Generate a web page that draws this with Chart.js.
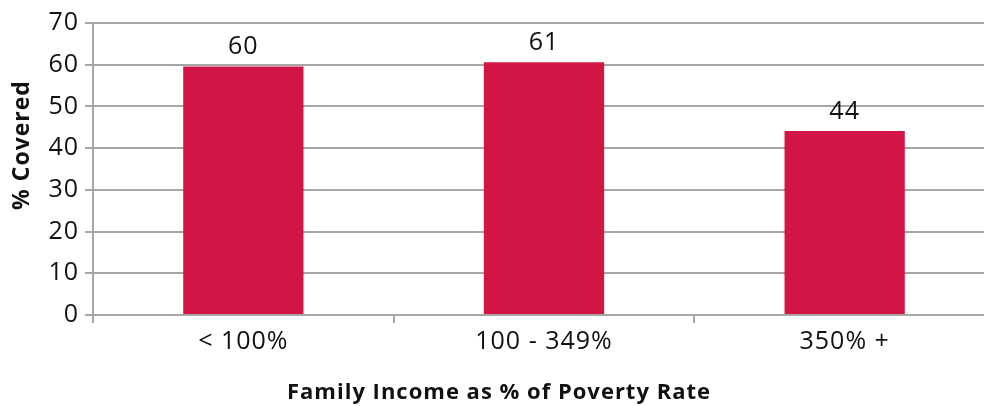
<!DOCTYPE html>
<html>
<head>
<meta charset="utf-8">
<script src="https://cdn.jsdelivr.net/npm/chart.js@4/dist/chart.umd.min.js"></script>
<style>
html,body{margin:0;padding:0;background:#fff;}
#wrap{width:984px;height:406px;}
</style>
</head>
<body>
<div id="wrap"><canvas id="c"></canvas></div>
<script>
const categories = ["< 100%", "100 - 349%", "350% +"];
const coveredValues = [59.6, 60.6, 44.1];
const yTicks = [0, 10, 20, 30, 40, 50, 60, 70];
const xTitle = "Family Income as % of Poverty Rate";
const yTitle = "% Covered";

const FONT = "'Open Sans', Lato, sans-serif";
const GRID = "#a6a6a6";

const spacingPlugin = {
  id: 'spacing',
  beforeInit(chart) { chart.ctx.letterSpacing = "1px"; },
  beforeUpdate(chart) { chart.ctx.letterSpacing = "1px"; },
  beforeDraw(chart) { chart.ctx.letterSpacing = "1px"; },
  afterLayout(chart) {
    // the plot area of the reference runs slightly past the right edge
    const right = 995;
    chart.chartArea.right = right;
    chart.chartArea.width = right - chart.chartArea.left;
    const x = chart.scales.x;
    x.right = right;
    x.width = right - x.left;
    x.configure();
    const y = chart.scales.y;
    y.configure();
  }
};

const labelPlugin = {
  id: 'barLabels',
  afterDatasetsDraw(chart) {
    const ctx = chart.ctx;
    const meta = chart.getDatasetMeta(0);
    ctx.save();
    ctx.font = "25px " + FONT;
    ctx.fillStyle = "#111";
    ctx.textAlign = "center";
    ctx.textBaseline = "alphabetic";
    meta.data.forEach((bar, i) => {
      ctx.fillText(String(Math.round(coveredValues[i])), bar.x, bar.y - 12);
    });
    ctx.restore();
  },
  afterDraw(chart) {
    const ctx = chart.ctx;
    ctx.save();
    ctx.fillStyle = "#111";
    ctx.letterSpacing = "1px";
    ctx.font = "bold 22px " + FONT;
    ctx.textAlign = "center";
    ctx.textBaseline = "alphabetic";
    ctx.fillText(xTitle, 499, 399);
    ctx.font = "bold 23px " + FONT;
    ctx.translate(29, 145);
    ctx.rotate(-Math.PI / 2);
    ctx.fillText(yTitle, 0, 0);
    ctx.restore();
  }
};

new Chart(document.getElementById('c'), {
  type: 'bar',
  data: {
    labels: categories,
    datasets: [{
      data: coveredValues,
      backgroundColor: "#d31545",
      categoryPercentage: 0.4,
      barPercentage: 1.0
    }]
  },
  options: {
    responsive: true,
    maintainAspectRatio: false,
    animation: false,
    devicePixelRatio: 1,
    layout: { padding: { top: 23, right: 0, left: 0, bottom: 0 } },
    plugins: { legend: { display: false }, tooltip: { enabled: false } },
    scales: {
      x: {
        afterFit(axis) { axis.height = 91; },
        grid: { offset: true, drawOnChartArea: false, color: GRID, lineWidth: 2, tickLength: 8 },
        border: { color: GRID, width: 2 },
        ticks: { color: "#111", font: { family: FONT, size: 25 }, padding: 4 }
      },
      y: {
        min: 0, max: 70,
        afterFit(axis) { axis.width = 93; },
        afterBuildTicks(axis) { axis.ticks = yTicks.map(v => ({ value: v })); },
        grid: { color: GRID, lineWidth: 2, tickLength: 8 },
        border: { color: GRID, width: 2 },
        ticks: { color: "#111", font: { family: FONT, size: 25 }, padding: 6 }
      }
    }
  },
  plugins: [spacingPlugin, labelPlugin]
});
</script>
</body>
</html>
